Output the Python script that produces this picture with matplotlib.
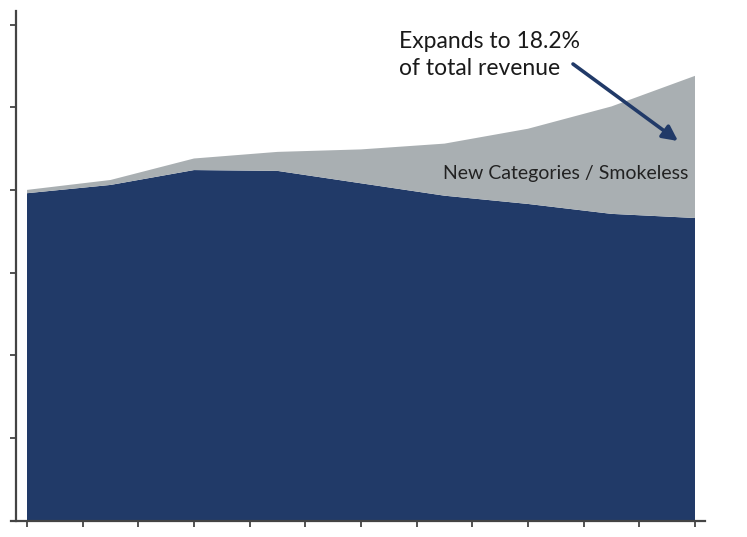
import matplotlib
matplotlib.use("Agg")
import matplotlib.pyplot as plt
import numpy as np

# ---- data (units arbitrary, axis unlabeled) ----
years = [2016, 2017, 2018, 2019, 2020, 2021, 2022, 2023, 2024]
core = [39.6, 40.6, 42.4, 42.3, 40.8, 39.3, 38.3, 37.1, 36.6]
new_categories = [0.4, 0.6, 1.4, 2.3, 4.1, 6.3, 9.1, 13.0, 17.2]
y_ticks = [0, 10, 20, 30, 40, 50, 60]
annotation_text = "Expands to 18.2%\nof total revenue"
series_label = "New Categories / Smokeless"

NAVY = "#213a68"
GREY = "#a9afb2"
AXIS = "#444444"

W, H = 747, 537
fig = plt.figure(figsize=(W / 100, H / 100), dpi=100)
fig.patch.set_facecolor("white")

# axes box in pixels: left 11, right 705, top 11, bottom 520.5
ax = fig.add_axes([11 / W, (H - 520.5) / H, (705 - 11) / W, (520.5 - 11) / H])
ax.set_facecolor("none")

x = np.array(years, dtype=float)
ax.stackplot(x, core, new_categories, colors=[NAVY, GREY], linewidth=0, zorder=2)

px = 83.5  # pixels per year
ax.set_xlim(years[0] - 16 / px, years[-1] + 10 / px)
ax.set_ylim(0, (520.5 - 11) / 8.265)

for s in ["top", "right"]:
    ax.spines[s].set_visible(False)
ax.spines["left"].set_position(("data", years[0] - 11 / px))
for s in ["left", "bottom"]:
    ax.spines[s].set_color(AXIS)
    ax.spines[s].set_linewidth(1.6)
    ax.spines[s].set_zorder(5)

ax.set_xticks(np.linspace(years[0], years[-1], 13))
ax.set_yticks(y_ticks)
ax.set_xticklabels([])
ax.set_yticklabels([])
ax.tick_params(axis="both", direction="out", length=4.5, width=1.3, color=AXIS)

ax.text(years[0] + (399 - 27) / px, (520.5 - 31) / 8.265, annotation_text,
        fontsize=16.5, family="Lato", color="#1a1a1a", ha="left", va="top",
        linespacing=1.35, zorder=6)
ax.annotate("", xy=(years[0] + (678 - 27) / px, (520.5 - 141) / 8.265),
            xytext=(years[0] + (573 - 27) / px, (520.5 - 64) / 8.265),
            arrowprops=dict(arrowstyle="-|>,head_length=0.9,head_width=0.45",
                            color=NAVY, lw=2.6, shrinkA=0, shrinkB=0), zorder=6)
ax.text(years[0] + (688 - 27) / px, (520.5 - 173) / 8.265, series_label,
        fontsize=14, family="Lato", color="#222222", ha="right", va="center",
        zorder=6)

fig.savefig("out.png", dpi=100)
